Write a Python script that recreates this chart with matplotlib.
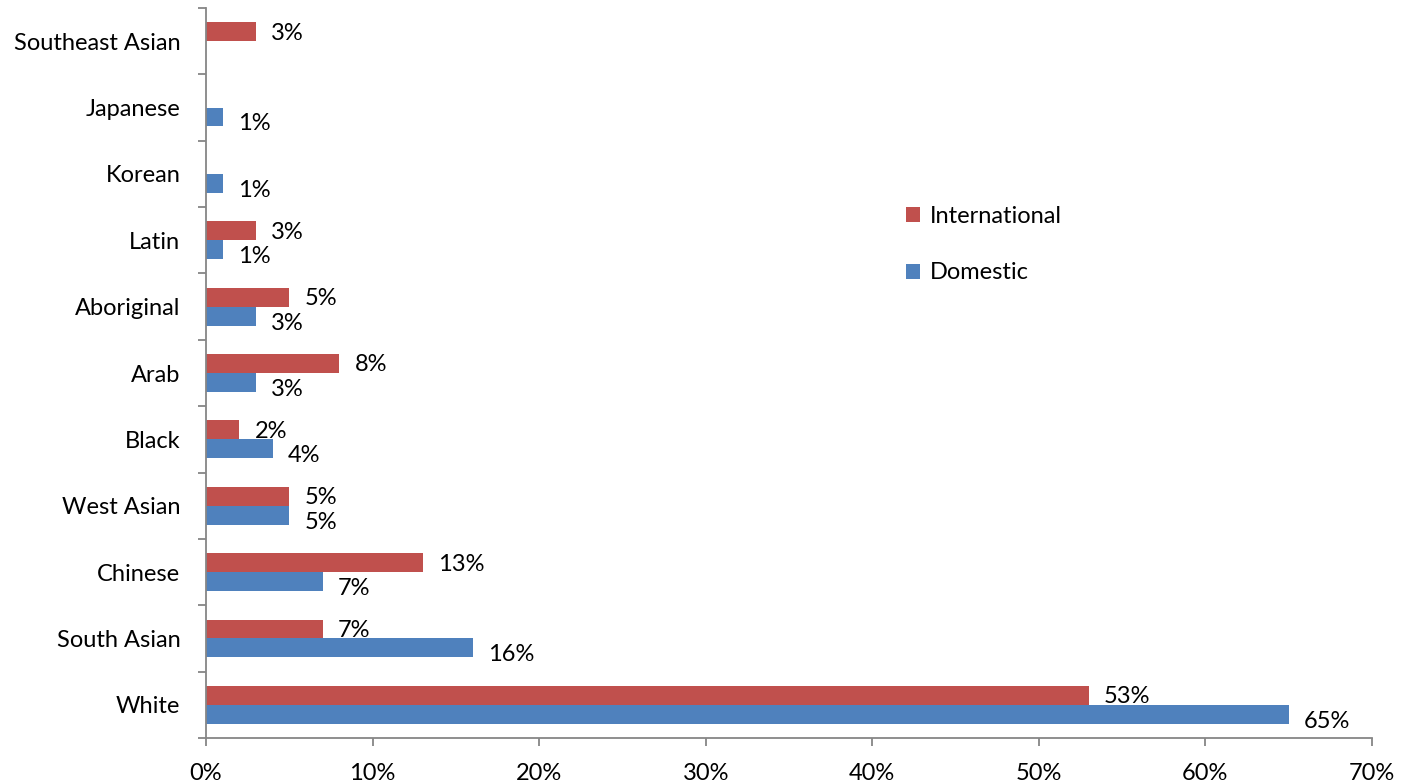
import numpy as np
import matplotlib
matplotlib.use("Agg")
from matplotlib import pyplot as plt

categories = ["White", "South Asian", "Chinese", "West Asian", "Black", "Arab",
              "Aboriginal", "Latin", "Korean", "Japanese", "Southeast Asian"]
international = [53, 7, 13, 5, 2, 8, 5, 3, 0, 0, 3]
domestic = [65, 16, 7, 5, 4, 3, 3, 1, 1, 1, 0]
xticks = [0, 10, 20, 30, 40, 50, 60, 70]

red = "#C0504D"
blue = "#4F81BD"
gray = "#868686"

plt.rcParams["font.family"] = ["Lato", "DejaVu Sans"]
fs = 17

fig = plt.figure(figsize=(14.12, 7.84), dpi=100)
ax = fig.add_axes([206/1412, 1-738/784, 1166/1412, 730/784])

y = np.arange(len(categories))
h = 0.285
ax.barh(y + h/2, international, height=h, color=red, label="International")
ax.barh(y - h/2, domestic, height=h, color=blue, label="Domestic")

for yi, v in zip(y, international):
    if v > 0:
        ax.annotate(f"{v}%", (v, yi + h/2), xytext=(11, -1), textcoords="offset points",
                    va="center", ha="left", fontsize=fs)
for yi, v in zip(y, domestic):
    if v > 0:
        ax.annotate(f"{v}%", (v, yi - h/2), xytext=(11, -5), textcoords="offset points",
                    va="center", ha="left", fontsize=fs)

ax.set_xlim(0, 70)
ax.set_ylim(-0.5, len(categories) - 0.5)
ax.set_xticks(xticks)
ax.set_xticklabels([f"{t}%" for t in xticks], fontsize=fs)
ax.set_yticks(y)
ax.set_yticklabels(categories, fontsize=fs)
ax.set_yticks(np.arange(-0.5, len(categories)), minor=True)
ax.tick_params(axis="y", which="major", length=0, pad=18.5)
ax.tick_params(axis="y", which="minor", length=6, color=gray, width=1.3)
ax.tick_params(axis="x", length=6, color=gray, width=1.3, pad=12)

for s in ["top", "right"]:
    ax.spines[s].set_visible(False)
for s in ["left", "bottom"]:
    ax.spines[s].set_color(gray)
    ax.spines[s].set_linewidth(1.3)

handles, labels = ax.get_legend_handles_labels()
ax.legend(handles, labels, loc="upper left", bbox_to_anchor=(0.582, 0.758),
          frameon=False, fontsize=fs, handlelength=0.6, handleheight=0.6,
          handletextpad=0.4, labelspacing=1.5)

fig.savefig("out.png", dpi=100)
